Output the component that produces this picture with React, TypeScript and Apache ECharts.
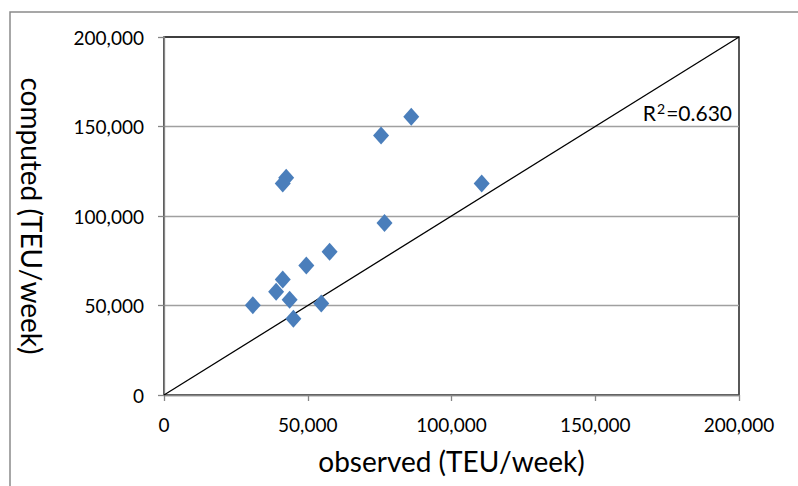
import React, { useEffect, useRef } from "react";
import * as echarts from "echarts";

const observed = [42500, 41300, 76700, 57600, 49500, 41300, 39000, 43700, 30900, 54700, 45000, 86000, 75500, 110500];
const computed = [121300, 118200, 96100, 80000, 72300, 64500, 57700, 53200, 50200, 51100, 42600, 155400, 145000, 118200];
const diagonalX = [0, 200000];
const diagonalY = [0, 200000];
const r2Base = "R";
const r2Sup = "2";
const r2Value = "=0.630";
const xTitle = "observed (TEU/week)";
const yTitle = "computed (TEU/week)";

const FONT = "Lato, 'Liberation Sans', sans-serif";
const fmt = (v: number) => v.toLocaleString("en-US");

export default function App() {
  const ref = useRef<HTMLDivElement>(null);
  useEffect(() => {
    if (!ref.current) return;
    const chart = echarts.init(ref.current, null, { renderer: "svg" });
    const points = observed.map((x, i) => [x, computed[i]]);
    const diag = diagonalX.map((x, i) => [x, diagonalY[i]]);
    chart.setOption({
      animation: false,
      backgroundColor: "#ffffff",
      grid: {
        left: 164,
        top: 37,
        width: 575,
        height: 358,
        show: true,
        borderColor: "#000000",
        borderWidth: 1.3,
        backgroundColor: "transparent",
      },
      graphic: [
        {
          type: "rect",
          shape: { x: 10, y: 12, width: 820, height: 520 },
          style: { fill: "none", stroke: "#8a8a8a", lineWidth: 1.5 },
          silent: true,
          z: -10,
        },
        {
          type: "text",
          right: 66,
          top: 101,
          style: {
            text: `{b|${r2Base}}{s|${r2Sup}}{b|${r2Value}}`,
            rich: {
              b: { fontFamily: FONT, fontSize: 21, color: "#000", verticalAlign: "bottom" },
              s: { fontFamily: FONT, fontSize: 14, color: "#000", verticalAlign: "top", padding: [0, 1, 8, 1] },
            },
          },
        },
      ],
      xAxis: {
        type: "value",
        min: 0,
        max: 200000,
        interval: 50000,
        name: xTitle,
        nameLocation: "middle",
        nameGap: 52,
        nameTextStyle: { fontFamily: FONT, fontSize: 28, color: "#000" },
        axisLine: { show: true, lineStyle: { color: "#868686", width: 1.3 } },
        axisTick: { show: true, length: 6, lineStyle: { color: "#868686", width: 1.3 } },
        axisLabel: { margin: 20, fontFamily: FONT, fontSize: 19, color: "#000", formatter: fmt },
        splitLine: { show: false },
      },
      yAxis: {
        type: "value",
        min: 0,
        max: 200000,
        interval: 50000,
        name: yTitle,
        nameLocation: "middle",
        nameRotate: -90,
        nameGap: 118,
        nameTextStyle: { fontFamily: FONT, fontSize: 28, color: "#000" },
        axisLine: { show: true, lineStyle: { color: "#868686", width: 1.3 } },
        axisTick: { show: true, length: 6, lineStyle: { color: "#868686", width: 1.3 } },
        axisLabel: { margin: 20, fontFamily: FONT, fontSize: 19, color: "#000", formatter: fmt },
        splitLine: { show: true, showMaxLine: false, lineStyle: { color: "#a0a0a0", width: 1.3 } },
      },
      series: [
        {
          type: "line",
          data: diag,
          symbol: "none",
          lineStyle: { color: "#000", width: 1.3 },
          z: 2,
        },
        {
          type: "scatter",
          data: points,
          symbol: "diamond",
          symbolSize: [16, 18],
          itemStyle: { color: "#4A7EBB", opacity: 1 },
          z: 3,
        },
      ],
    });
    return () => chart.dispose();
  }, []);
  return (
    <div
      ref={ref}
      style={{ position: "fixed", left: 0, top: 0, width: 798, height: 486 }}
    />
  );
}
